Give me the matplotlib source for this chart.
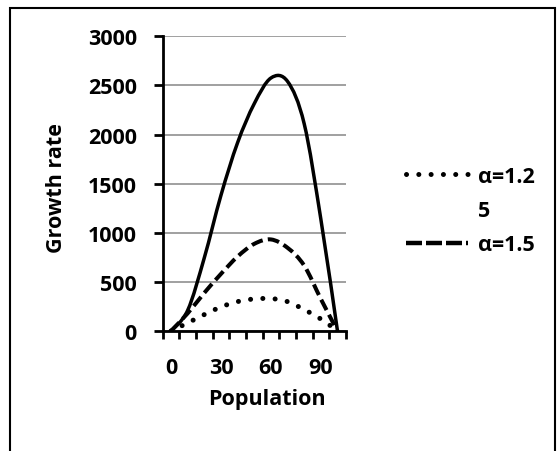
import matplotlib
matplotlib.use("Agg")
from matplotlib import pyplot as plt
from matplotlib.path import Path
from matplotlib.patches import PathPatch, Rectangle
from matplotlib.lines import Line2D

# population (category axis), growth rate per alpha
population = [0, 10, 20, 30, 40, 50, 60, 70, 80, 90, 100]
alpha_125 = [0, 82, 167, 245, 299, 326, 330, 299, 218, 122, 0]
alpha_15 = [0, 180, 388, 581, 758, 887, 932, 847, 666, 326, 0]
alpha_2 = [0, 210, 745, 1381, 1917, 2314, 2575, 2541, 2110, 1140, 0]

x_labels = [0, 30, 60, 90]
y_ticks = [0, 500, 1000, 1500, 2000, 2500, 3000]

plt.rcParams['font.family'] = ['Open Sans', 'DejaVu Sans']
plt.rcParams['font.weight'] = 'bold'
FS = 15.5


def smooth_path(xs, ys):
    # excel style smoothed line: bezier segments through every point
    pts = list(zip(xs, ys))
    verts = [pts[0]]
    codes = [Path.MOVETO]
    n = len(pts)
    for i in range(n - 1):
        p0 = pts[max(i - 1, 0)]
        p1 = pts[i]
        p2 = pts[i + 1]
        p3 = pts[min(i + 2, n - 1)]
        c1 = (p1[0] + (p2[0] - p0[0]) / 6, p1[1] + (p2[1] - p0[1]) / 6)
        c2 = (p2[0] - (p3[0] - p1[0]) / 6, p2[1] - (p3[1] - p1[1]) / 6)
        verts += [c1, c2, p2]
        codes += [Path.CURVE4] * 3
    return Path(verts, codes)


dotted = dict(color='black', lw=3.6, linestyle=(0, (0.01, 2.45)), capstyle='round')
dashed = dict(color='black', lw=2.9, linestyle=(0, (2.9, 1.3)), capstyle='butt')
solid = dict(color='black', lw=2.5, linestyle='-', capstyle='round')

fig = plt.figure(figsize=(5.6, 4.52), dpi=100)
ax = fig.add_axes([0.2905, 0.2655, 0.327, 0.652])

for ys, st in [(alpha_2, solid), (alpha_15, dashed), (alpha_125, dotted)]:
    ax.add_patch(PathPatch(smooth_path(population, ys), fill=False,
                           joinstyle='round', zorder=3, **st))

ax.set_xlim(-5, 105)
ax.set_ylim(0, 3000)
ax.set_xticks(x_labels)
ax.set_xticks([p - 5 for p in population] + [105], minor=True)
ax.set_yticks(y_ticks)
ax.tick_params(axis='x', which='major', length=0, pad=19, labelsize=FS)
ax.tick_params(axis='x', which='minor', length=6, width=2, direction='out')
ax.tick_params(axis='y', length=6.5, width=2, direction='out', pad=12, labelsize=FS)

ax.grid(axis='y', color='#868686', lw=1.1)
ax.set_axisbelow(True)
for s in ['top', 'right']:
    ax.spines[s].set_visible(False)
for s in ['left', 'bottom']:
    ax.spines[s].set_linewidth(2)

ax.set_xlabel("Population", fontsize=FS, fontweight='bold')
ax.xaxis.set_label_coords(0.572, -0.195)
ax.set_ylabel("Growth rate", fontsize=FS, fontweight='bold')
ax.yaxis.set_label_coords(-0.52, 0.49)

# legend (the α=1.25 label wraps onto two lines in the original)
h1 = Line2D([], [], color='black', lw=3.6, linestyle=(0, (0.01, 2.45)),
            dash_capstyle='round')
h_blank = Line2D([], [], color='none')
h2 = Line2D([], [], color='black', lw=3.2, linestyle=(0, (3.6, 0.9)))
fig.legend([h1, h_blank, h2], ["α=1.2", "5", "α=1.5"],
           loc='upper left', bbox_to_anchor=(0.705, 0.655), frameon=False,
           fontsize=FS, handlelength=2.9, handletextpad=0.45,
           labelspacing=0.62, borderpad=0)

fig.add_artist(Rectangle((10 / 560, -0.1), 545 / 560, 1.08,
                         transform=fig.transFigure, fill=False,
                         lw=1.5, color='black'))

fig.savefig("out.png", dpi=100)
